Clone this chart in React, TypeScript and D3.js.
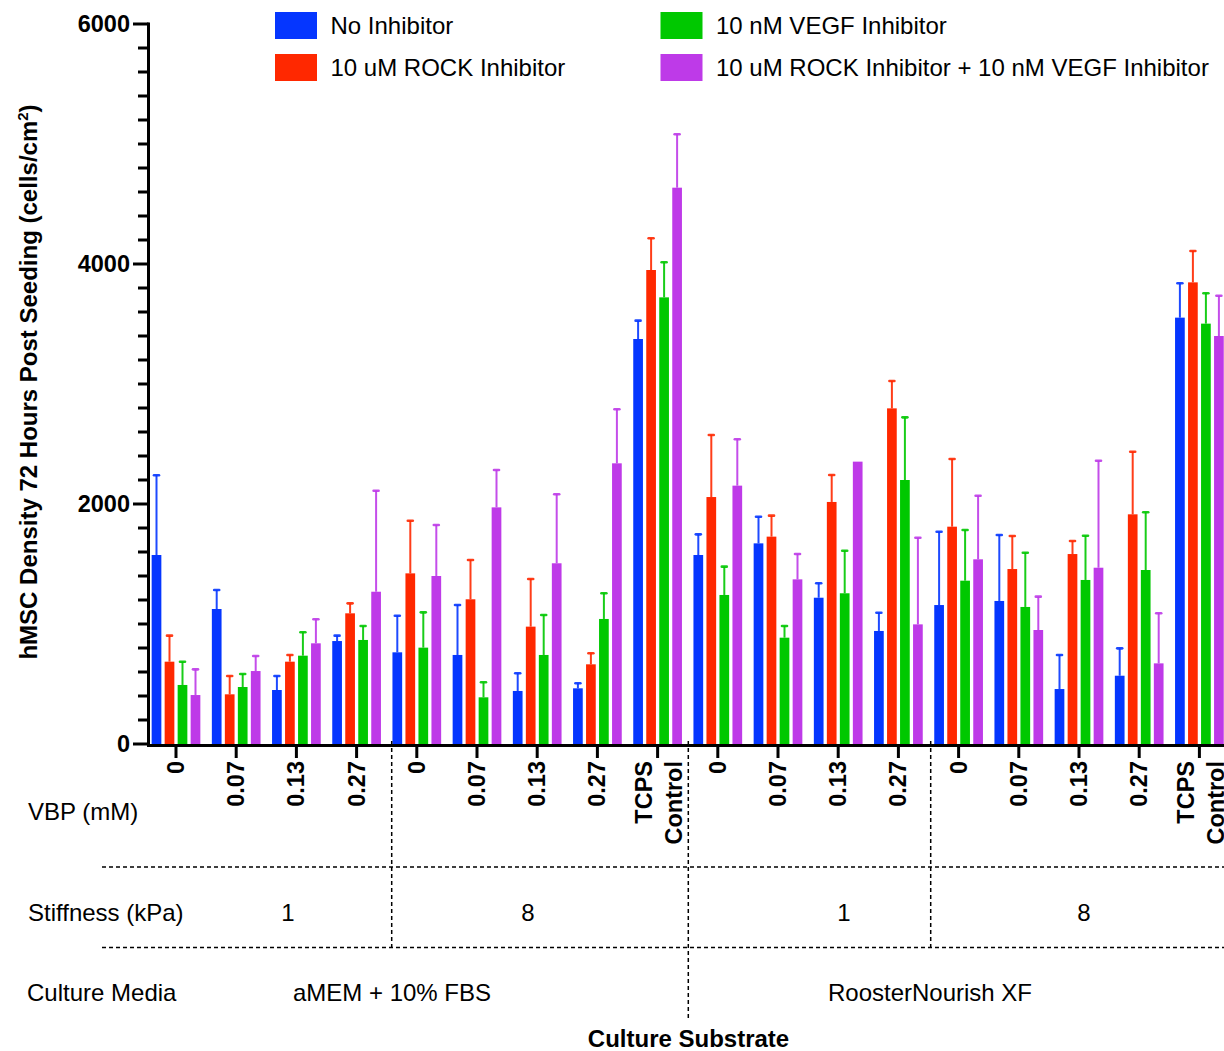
import React from "react";
import * as d3 from "d3";

// Mean cell density (cells/cm²) and SD for each culture substrate, per treatment
const substrateLabels = [
  "0", "0.07", "0.13", "0.27",
  "0", "0.07", "0.13", "0.27", "TCPS Control",
  "0", "0.07", "0.13", "0.27",
  "0", "0.07", "0.13", "0.27", "TCPS Control",
];

const seriesNames = [
  "No Inhibitor",
  "10 uM ROCK Inhibitor",
  "10 nM VEGF Inhibitor",
  "10 uM ROCK Inhibitor + 10 nM VEGF Inhibitor",
];
const seriesColors = ["#0536FF", "#FF2800", "#00C800", "#BE3AE8"];

const noInhibitor = [1575, 1125, 450, 858, 764, 742, 442, 464, 3375, 1575, 1672, 1219, 942, 1158, 1192, 458, 569, 3553];
const noInhibitorSd = [664, 158, 117, 45, 305, 416, 147, 42, 153, 172, 222, 120, 152, 611, 550, 284, 228, 286];

const rockInhibitor = [686, 414, 686, 1089, 1422, 1206, 978, 664, 3950, 2058, 1728, 2017, 2797, 1811, 1458, 1583, 1914, 3847];
const rockInhibitorSd = [217, 153, 56, 83, 439, 327, 397, 92, 264, 517, 175, 225, 228, 564, 275, 109, 522, 261];

const vegfInhibitor = [492, 475, 736, 867, 803, 389, 742, 1042, 3722, 1242, 886, 1256, 2200, 1361, 1142, 1367, 1450, 3503];
const vegfInhibitorSd = [194, 108, 195, 116, 294, 125, 333, 214, 292, 236, 97, 355, 522, 422, 452, 369, 481, 253];

const rockVegfInhibitor = [408, 608, 839, 1269, 1400, 1972, 1506, 2339, 4636, 2153, 1372, 2353, 997, 1539, 950, 1469, 672, 3400];
const rockVegfInhibitorSd = [214, 125, 200, 842, 425, 311, 575, 450, 445, 386, 211, 0, 722, 530, 278, 892, 417, 336];

const yTicks = [0, 2000, 4000, 6000];

// Table rows under the axis
const stiffnessLabels = [
  { text: "1", x: 288 },
  { text: "8", x: 528 },
  { text: "1", x: 844 },
  { text: "8", x: 1084 },
];
const mediaLabels = [
  { text: "aMEM + 10% FBS", x: 392 },
  { text: "RoosterNourish XF", x: 930 },
];

const FONT = "'Liberation Sans', Arial, Helvetica, sans-serif";
const W = 1224;
const H = 1051;

export default function App() {
  const means = [noInhibitor, rockInhibitor, vegfInhibitor, rockVegfInhibitor];
  const sds = [noInhibitorSd, rockInhibitorSd, vegfInhibitorSd, rockVegfInhibitorSd];

  const groupIdx = substrateLabels.map((_, i) => i);
  const x0 = d3.scaleBand<number>().domain(groupIdx).range([145.9, 145.9 + 18 * 60.2]).padding(0);
  const x1 = d3
    .scaleBand<number>()
    .domain([0, 1, 2, 3])
    .range([x0.bandwidth() / 2 - 24.35, x0.bandwidth() / 2 + 24.35])
    .paddingInner(0.2538)
    .paddingOuter(0);
  const y = d3.scaleLinear().domain([0, 6000]).range([744, 24]);

  const minorTicks = d3.range(0, 6001, 200);
  const axisX = 148.5;
  const axisY = 745.5;

  const center = (g: number) => (x0(g) as number) + x0.bandwidth() / 2;

  return (
    <svg
      width={W}
      height={H}
      style={{ position: "absolute", left: 0, top: 0, background: "#fff" }}
      fontFamily={FONT}
    >
      <rect x={0} y={0} width={W} height={H} fill="#fff" />

      {/* bars and error bars */}
      {means.map((vals, s) => (
        <g key={s}>
          {vals.map((v, g) => {
            const bx = (x0(g) as number) + (x1(s) as number);
            const bw = x1.bandwidth();
            const cx = bx + bw / 2;
            const top = y(v);
            const errTop = y(v + sds[s][g]);
            return (
              <g key={g}>
                <rect x={bx} y={top} width={bw} height={y(0) - top} fill={seriesColors[s]} />
                {sds[s][g] > 0 && (
                  <g stroke={seriesColors[s]} strokeOpacity={0.9}>
                    <line x1={cx} x2={cx} y1={top} y2={errTop} strokeWidth={2} />
                    <line x1={cx - 2.5} x2={cx + 2.5} y1={errTop} y2={errTop} strokeWidth={2.6} strokeLinecap="round" />
                  </g>
                )}
              </g>
            );
          })}
        </g>
      ))}

      {/* y axis */}
      <line x1={axisX} x2={axisX} y1={22.5} y2={axisY + 1.5} stroke="#000" strokeWidth={3} />
      {minorTicks.map((t) => (
        <line
          key={t}
          x1={yTicks.includes(t) ? 133 : 138}
          x2={axisX}
          y1={y(t)}
          y2={y(t)}
          stroke="#000"
          strokeWidth={3}
        />
      ))}
      {yTicks.map((t) => (
        <text
          key={t}
          x={130}
          y={y(t)}
          dy="0.35em"
          textAnchor="end"
          fontSize={23.5}
          fontWeight="bold"
        >
          {t}
        </text>
      ))}
      <text
        transform="translate(37,382) rotate(-90)"
        textAnchor="middle"
        fontSize={24}
        fontWeight="bold"
      >
        hMSC Density 72 Hours Post Seeding (cells/cm
        <tspan fontSize={15} dy={-9}>2</tspan>
        <tspan dy={9}>)</tspan>
      </text>

      {/* x axis */}
      <line x1={axisX - 1.5} x2={W} y1={axisY} y2={axisY} stroke="#000" strokeWidth={3} />
      {groupIdx.map((g) => (
        <line key={g} x1={center(g)} x2={center(g)} y1={axisY} y2={758} stroke="#000" strokeWidth={3} />
      ))}
      {substrateLabels.map((lab, g) => {
        const cx = center(g);
        const parts = lab.split(" ");
        if (parts.length === 1) {
          return (
            <text
              key={g}
              transform={`translate(${cx},761) rotate(-90)`}
              textAnchor="end"
              dy="0.34em"
              fontSize={23.5}
              fontWeight="bold"
            >
              {lab}
            </text>
          );
        }
        return (
          <g key={g} transform={`translate(${cx},761) rotate(-90)`}>
            <text textAnchor="end" dy={-5.7} fontSize={23.5} fontWeight="bold">
              {parts[0]}
            </text>
            <text textAnchor="end" dy={24.3} fontSize={23.5} fontWeight="bold">
              {parts[1]}
            </text>
          </g>
        );
      })}

      {/* table grid */}
      <g stroke="#000" strokeWidth={1.5} strokeDasharray="4,3" fill="none">
        <line x1={102} x2={W} y1={867} y2={867} />
        <line x1={102} x2={W} y1={947.5} y2={947.5} />
        <line x1={391.7} x2={391.7} y1={741} y2={948} />
        <line x1={688.3} x2={688.3} y1={741} y2={1018} />
        <line x1={930.7} x2={930.7} y1={741} y2={951} />
      </g>

      {/* table text */}
      <g fontSize={24} fill="#000">
        <text x={28} y={812} dy="0.35em">VBP (mM)</text>
        <text x={28} y={913} dy="0.35em">Stiffness (kPa)</text>
        <text x={27} y={993} dy="0.35em">Culture Media</text>
        {stiffnessLabels.map((d, i) => (
          <text key={i} x={d.x} y={913} dy="0.35em" textAnchor="middle">
            {d.text}
          </text>
        ))}
        {mediaLabels.map((d, i) => (
          <text key={i} x={d.x} y={993} dy="0.35em" textAnchor="middle">
            {d.text}
          </text>
        ))}
      </g>
      <text x={688.5} y={1039} dy="0.35em" textAnchor="middle" fontSize={24} fontWeight="bold">
        Culture Substrate
      </text>

      {/* legend: two columns, two rows */}
      {seriesNames.map((name, s) => {
        const col = Math.floor(s / 2);
        const row = s % 2;
        const lx = col === 0 ? 275 : 660.5;
        const ly = row === 0 ? 12 : 54;
        return (
          <g key={s}>
            <rect x={lx} y={ly} width={42} height={27} fill={seriesColors[s]} />
            <text x={lx + 55.5} y={ly + 13.5} dy="0.35em" fontSize={24}>
              {name}
            </text>
          </g>
        );
      })}
    </svg>
  );
}
